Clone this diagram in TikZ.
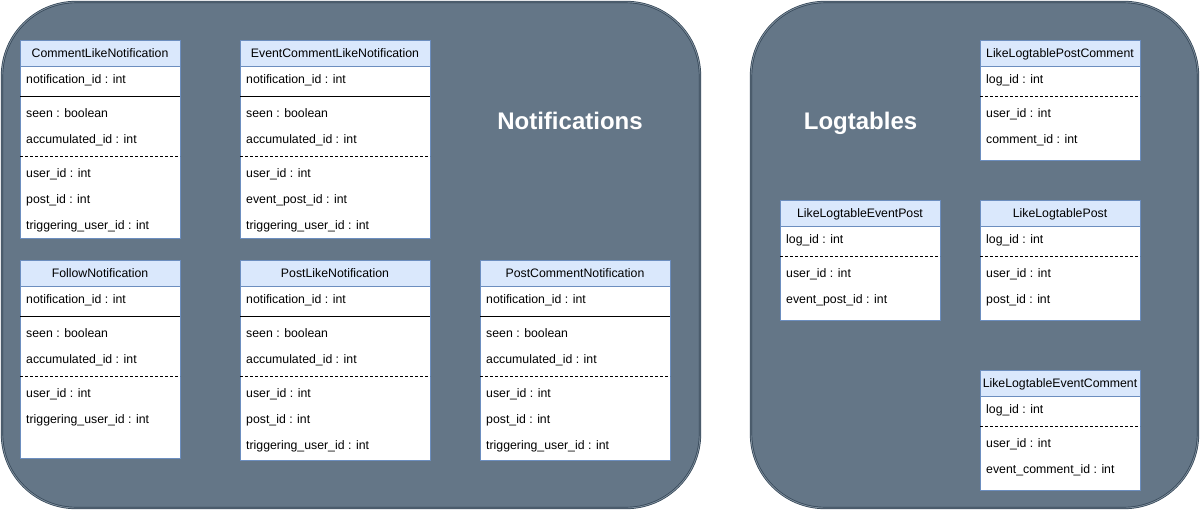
\documentclass[tikz,border=0pt]{standalone}
\usepackage{fontspec}
\setmainfont{Liberation Sans}
\definecolor{contfill}{HTML}{647687}
\definecolor{contline}{HTML}{314354}
\definecolor{hdrfill}{HTML}{DAE8FC}
\definecolor{hdrline}{HTML}{6C8EBF}
\tikzset{
  container/.style={draw=contline, fill=contfill, line width=0.7pt, double=contfill!85!white, double distance=0.9pt,
    rounded corners=74pt, anchor=north west, inner sep=0pt, outer sep=0pt},
  grouptitle/.style={anchor=base, text=white, font=\fontsize{24}{28}\selectfont\bfseries, inner sep=0pt},
  bodybox/.style={draw=hdrline, fill=white, line width=0.9pt, anchor=north west, inner sep=0pt, outer sep=0pt},
  hdr/.style={draw=hdrline, fill=hdrfill, line width=0.9pt, anchor=north west, minimum height=26pt,
    inner sep=0pt, outer sep=0pt, text height=8.8pt, text depth=0pt, font=\fontsize{12.3}{14}\selectfont},
  fieldtxt/.style={anchor=base west, inner sep=0pt, font=\fontsize{12.3}{14}\selectfont},
  solidsep/.style={draw=black, line width=0.9pt},
  dashsep/.style={draw=black, line width=0.8pt, dash pattern=on 3pt off 2pt},
}
\newcommand\utable[6]{%
  \node[bodybox, minimum width=#4pt, minimum height=#5pt] (#1-b) at (#2,#3+26) {};
  \node[hdr, minimum width=#4pt] (#1) at (#2,#3) {#6};
}
\newcommand\ufield[4]{\node[fieldtxt] (#1) at (#2+6,#3+4.5) {#4};}
\newcommand\usep[3]{\draw[#1] (#2-b.west |- 0,#3) -- (#2-b.east |- 0,#3);}
\newcommand\notiftable[6]{% name, x, y, w, body height, title
  \utable{#1}{#2}{#3}{#4}{#5}{#6}
  \ufield{#1-f1}{#2}{#3+39}{notification\_id : int}
  \usep{solidsep}{#1}{#3+56}
  \ufield{#1-f2}{#2}{#3+73}{seen : boolean}
  \ufield{#1-f3}{#2}{#3+99}{accumulated\_id : int}
  \usep{dashsep}{#1}{#3+116}
}
\newcommand\logtable[5]{% name, x, y, title, last field
  \utable{#1}{#2}{#3}{160}{94}{#4}
  \ufield{#1-f1}{#2}{#3+39}{log\_id : int}
  \usep{dashsep}{#1}{#3+56}
  \ufield{#1-f2}{#2}{#3+73}{user\_id : int}
  \ufield{#1-f3}{#2}{#3+99}{#5}
}
\begin{document}
\begin{tikzpicture}[x=1pt, y=-1pt]
\useasboundingbox (0,0) rectangle (1201,512);
% containers
\node[container, minimum width=698pt, minimum height=506pt] (notif) at (2,2) {};
\node[container, minimum width=447pt, minimum height=506pt] (logs) at (751,2) {};
\node[grouptitle] (notif-t) at (570,129.5) {Notifications};
\node[grouptitle] (logs-t) at (860.5,129.5) {Logtables};
% notification tables
\notiftable{cln}{20}{40}{160}{172}{CommentLikeNotification}
\ufield{cln-f4}{20}{173}{user\_id : int}
\ufield{cln-f5}{20}{199}{post\_id : int}
\ufield{cln-f6}{20}{225}{triggering\_user\_id : int}

\notiftable{ecln}{240}{40}{190}{172}{EventCommentLikeNotification}
\ufield{ecln-f4}{240}{173}{user\_id : int}
\ufield{ecln-f5}{240}{199}{event\_post\_id : int}
\ufield{ecln-f6}{240}{225}{triggering\_user\_id : int}

\notiftable{fn}{20}{260}{160}{172}{FollowNotification}
\ufield{fn-f4}{20}{393}{user\_id : int}
\ufield{fn-f5}{20}{419}{triggering\_user\_id : int}

\notiftable{pln}{240}{260}{190}{174}{PostLikeNotification}
\ufield{pln-f4}{240}{393}{user\_id : int}
\ufield{pln-f5}{240}{419}{post\_id : int}
\ufield{pln-f6}{240}{445}{triggering\_user\_id : int}

\notiftable{pcn}{480}{260}{190}{174}{PostCommentNotification}
\ufield{pcn-f4}{480}{393}{user\_id : int}
\ufield{pcn-f5}{480}{419}{post\_id : int}
\ufield{pcn-f6}{480}{445}{triggering\_user\_id : int}
% logtables
\logtable{llpc}{980}{40}{LikeLogtablePostComment}{comment\_id : int}
\logtable{llep}{780}{200}{LikeLogtableEventPost}{event\_post\_id : int}
\logtable{llp}{980}{200}{LikeLogtablePost}{post\_id : int}
\logtable{llec}{980}{370}{LikeLogtableEventComment}{event\_comment\_id : int}
\end{tikzpicture}
\end{document}
